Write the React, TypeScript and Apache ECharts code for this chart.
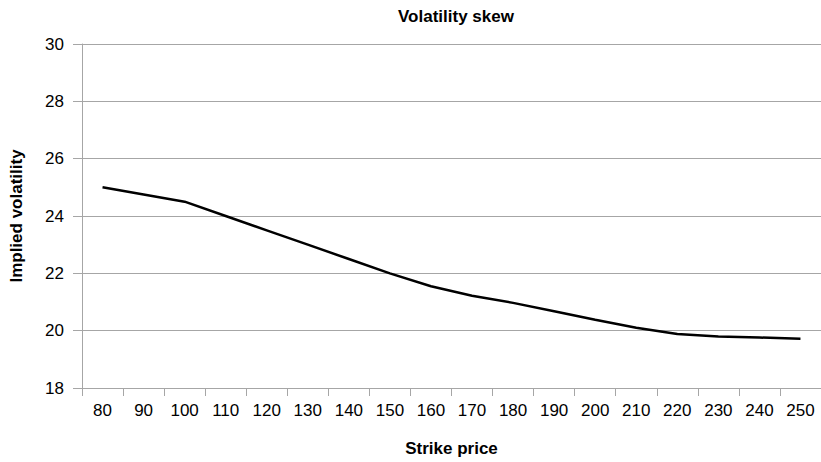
import React, { useEffect, useRef } from "react";
import * as echarts from "echarts";

const strikes = ["80", "90", "100", "110", "120", "130", "140", "150", "160", "170", "180", "190", "200", "210", "220", "230", "240", "250"];
const impliedVol = [25.0, 24.75, 24.5, 24.0, 23.5, 23.0, 22.5, 22.0, 21.55, 21.22, 20.97, 20.68, 20.38, 20.1, 19.88, 19.8, 19.76, 19.72];
const yMin = 18;
const yMax = 30;
const yStep = 2;

const FONT = "'Liberation Sans', Arial, sans-serif";
const GRAY = "#a6a6a6";

export default function App() {
  const ref = useRef<HTMLDivElement>(null);
  useEffect(() => {
    if (!ref.current) return;
    const chart = echarts.init(ref.current, undefined, { renderer: "svg" });
    chart.setOption({
      animation: false,
      backgroundColor: "#ffffff",
      title: {
        text: "Volatility skew",
        left: 451,
        textAlign: "center",
        top: 3,
        textStyle: { fontFamily: FONT, fontSize: 17, fontWeight: "bold", color: "#000" },
      },
      grid: { left: 81, right: -1, top: 44, bottom: 71, containLabel: false },
      xAxis: {
        type: "category",
        data: strikes,
        boundaryGap: true,
        name: "Strike price",
        nameLocation: "middle",
        nameGap: 52,
        nameTextStyle: { fontFamily: FONT, fontSize: 17, fontWeight: "bold", color: "#000" },
        axisLine: { show: true, lineStyle: { color: GRAY, width: 1 } },
        axisTick: { show: true, interval: 0, length: 8, lineStyle: { color: GRAY } },
        axisLabel: { interval: 0, margin: 14, fontFamily: FONT, fontSize: 17, color: "#000" },
        splitLine: { show: false },
      },
      yAxis: {
        type: "value",
        min: yMin,
        max: yMax,
        interval: yStep,
        name: "Implied volatility",
        nameLocation: "middle",
        nameGap: 57,
        nameTextStyle: { fontFamily: FONT, fontSize: 17, fontWeight: "bold", color: "#000" },
        axisLine: { show: true, lineStyle: { color: GRAY, width: 1 } },
        axisTick: { show: true, length: 9, lineStyle: { color: GRAY } },
        axisLabel: { margin: 18, fontFamily: FONT, fontSize: 17, color: "#000" },
        splitLine: { show: true, lineStyle: { color: GRAY, width: 1 } },
      },
      series: [
        {
          type: "line",
          data: impliedVol,
          showSymbol: false,
          symbol: "none",
          smooth: false,
          lineStyle: { color: "#000", width: 2.5 },
        },
      ],
    });
    return () => chart.dispose();
  }, []);
  return <div ref={ref} style={{ width: 821, height: 462, position: "absolute", left: 0, top: 0 }} />;
}
